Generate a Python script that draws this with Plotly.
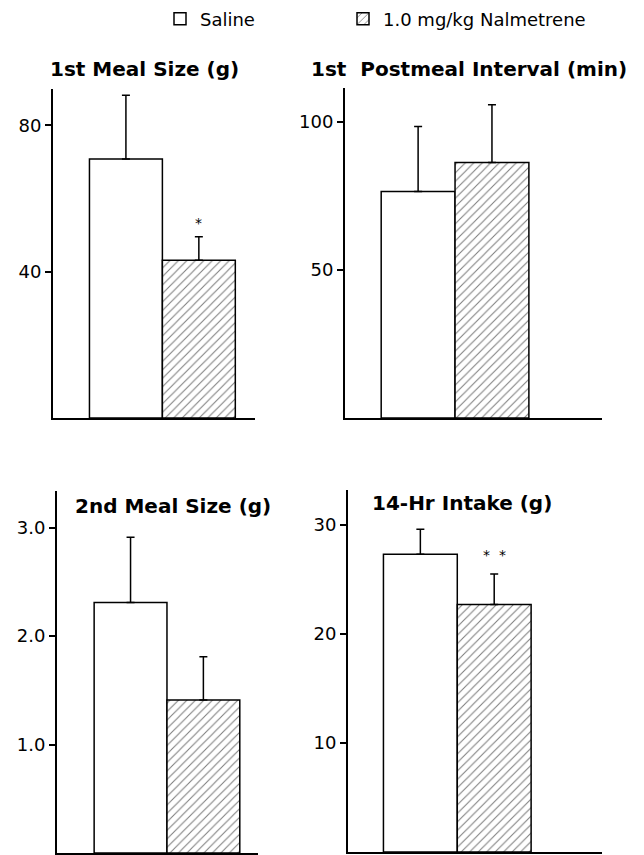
import plotly.graph_objects as go

# ---- data ----
panel_titles = ["1st Meal Size (g)", "1st\u00a0 Postmeal Interval (min)", "2nd Meal Size (g)", "14-Hr Intake (g)"]
groups = ["Saline", "1.0 mg/kg Nalmetrene"]
saline_mean = [70.8, 76.5, 2.31, 27.3]
saline_sem = [17.4, 22.0, 0.60, 2.3]
nalm_mean = [43.1, 86.3, 1.41, 22.7]
nalm_sem = [6.4, 19.5, 0.40, 2.8]
significance = ["*", "", "", "*\u00a0\u00a0*"]
tick_values = [[40, 80], [50, 100], [1, 2, 3], [10, 20, 30]]
tick_labels = [["40", "80"], ["50", "100"], ["1.0", "2.0", "3.0"], ["10", "20", "30"]]

# ---- layout geometry (styling) ----
W, H = 644, 855
x_domains = [[53 / W, 255 / W], [345 / W, 602 / W], [57 / W, 258 / W], [348 / W, 602 / W]]
y_domains = [[1 - 418 / H, 1 - 89 / H], [1 - 418 / H, 1 - 88 / H],
             [1 - 853 / H, 1 - 490.7 / H], [1 - 852 / H, 1 - 490 / H]]
x_ranges = [[-1.0, 1.77], [-0.99, 2.49], [-1.01, 1.75], [-0.98, 2.46]]
y_ranges = [[0, 89.9], [0, 111.5], [0, 3.34], [0, 33.2]]
title_pos = [(144.5, 69), (468.5, 69), (172.5, 506), (462.5, 503)]
sig_shift = [14, 0, 0, 19]

FONT = "DejaVu Sans"
fig = go.Figure()

for i in range(4):
    xa = "x" if i == 0 else f"x{i+1}"
    ya = "y" if i == 0 else f"y{i+1}"
    fig.add_trace(go.Bar(
        x=[0], y=[saline_mean[i]], width=1, xaxis=xa, yaxis=ya,
        name=groups[0], legend="legend", legendgroup="sal", showlegend=(i == 0),
        marker=dict(color="white", line=dict(color="black", width=1.5)),
        error_y=dict(type="data", array=[saline_sem[i]], arrayminus=[0], symmetric=False,
                     color="black", thickness=1.5, width=4),
    ))
    fig.add_trace(go.Bar(
        x=[1], y=[nalm_mean[i]], width=1, xaxis=xa, yaxis=ya,
        name=groups[1], legend="legend2", legendgroup="nal", showlegend=(i == 0),
        marker=dict(color="white", line=dict(color="black", width=1.5),
                    pattern=dict(shape="/", fgcolor="black", bgcolor="white", size=6, solidity=0.18)),
        error_y=dict(type="data", array=[nalm_sem[i]], arrayminus=[0], symmetric=False,
                     color="black", thickness=1.5, width=4),
    ))
    axis_common = dict(showgrid=False, zeroline=False, showline=True, linecolor="black", linewidth=2)
    fig.layout[("xaxis" if i == 0 else f"xaxis{i+1}")] = dict(
        domain=x_domains[i], range=x_ranges[i], anchor=ya, showticklabels=False, ticks="",
        fixedrange=True, **axis_common)
    fig.layout[("yaxis" if i == 0 else f"yaxis{i+1}")] = dict(
        domain=y_domains[i], range=y_ranges[i], anchor=xa, tickvals=tick_values[i],
        ticktext=tick_labels[i], ticks="outside", ticklen=6, tickwidth=2, tickcolor="black",
        tickfont=dict(family=FONT, size=18, color="black"), fixedrange=True, **axis_common)
    tx, ty = title_pos[i]
    fig.add_annotation(text=f"<b>{panel_titles[i]}</b>", xref="paper", yref="paper",
                       x=tx / W, y=1 - ty / H, xanchor="center", yanchor="middle", showarrow=False,
                       font=dict(family=FONT, size=20, color="black"))
    if significance[i]:
        fig.add_annotation(text=significance[i], xref=xa, yref=ya, x=1,
                           y=nalm_mean[i] + nalm_sem[i], yshift=sig_shift[i],
                           xanchor="center", yanchor="middle", showarrow=False,
                           font=dict(family=FONT, size=14, color="black"))

fig.update_layout(
    width=W, height=H, margin=dict(l=0, r=0, t=0, b=0),
    paper_bgcolor="white", plot_bgcolor="white", barmode="overlay",
    font=dict(family=FONT, color="black"),
    legend=dict(x=160 / W, y=1 - 19 / H, xanchor="left", yanchor="middle", orientation="h",
                font=dict(family=FONT, size=18, color="black"), bgcolor="rgba(0,0,0,0)"),
    legend2=dict(x=343 / W, y=1 - 19 / H, xanchor="left", yanchor="middle", orientation="h",
                 font=dict(family=FONT, size=18, color="black"), bgcolor="rgba(0,0,0,0)"),
)

fig.write_html("out.html", config={"displayModeBar": False},
               post_script="document.body.style.margin='0';document.body.style.overflow='hidden';")
